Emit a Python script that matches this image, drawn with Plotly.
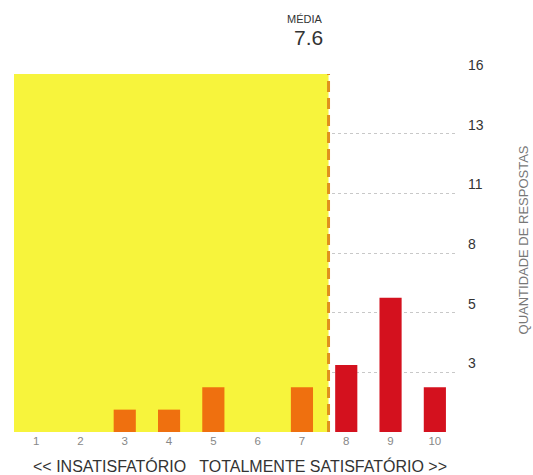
import plotly.graph_objects as go

notas = [1, 2, 3, 4, 5, 6, 7, 8, 9, 10]
respostas = [0, 0, 1, 1, 2, 0, 2, 3, 6, 2]
cores = ['#EF700F'] * 7 + ['#D4111E'] * 3
media = 7.6
y_max = 16
y_ticks = [y_max * i / 6 for i in range(1, 7)]
y_tick_labels = ['3', '5', '8', '11', '13', '16']

fig = go.Figure()
fig.add_trace(go.Bar(x=notas, y=respostas, marker_color=cores, width=0.5,
                     marker_line_width=0, hoverinfo='x+y'))

# area amarela ate a media + linha tracejada
fig.add_shape(type='rect', x0=0.5, x1=media, y0=0, y1=y_max, layer='between',
              fillcolor='#F7F43C', line_width=0)
fig.add_shape(type='line', x0=media, x1=media, y0=0, y1=y_max,
              line=dict(color='#E0901E', width=3, dash='11px,6px'))

fig.add_annotation(x=media, y=1, xref='x', yref='paper', yshift=47, text='MÉDIA',
                   showarrow=False, xanchor='right', yanchor='bottom', xshift=-4,
                   font=dict(size=11, color='#333', family='Liberation Sans'))
fig.add_annotation(x=media, y=1, xref='x', yref='paper', yshift=23, text='7.6',
                   showarrow=False, xanchor='right', yanchor='bottom', xshift=-4,
                   font=dict(size=21, color='#333', family='Liberation Sans'))
fig.add_annotation(x=0.5, y=0, xref='paper', yref='paper', yshift=-23,
                   text='<< INSATISFATÓRIO   TOTALMENTE SATISFATÓRIO >>',
                   showarrow=False, xanchor='center', yanchor='top', xshift=4,
                   font=dict(size=16, color='#333', family='Liberation Sans'))
fig.add_annotation(x=1, y=0.535, xref='paper', yref='paper', xshift=66,
                   text='QUANTIDADE DE RESPOSTAS', textangle=-90,
                   showarrow=False, xanchor='center', yanchor='middle',
                   font=dict(size=13, color='#777', family='Liberation Sans'))

fig.update_layout(
    width=533, height=475,
    margin=dict(l=14, r=76, t=74, b=43, autoexpand=False),
    paper_bgcolor='white', plot_bgcolor='white',
    showlegend=False, bargap=0.5,
    font=dict(family='Liberation Sans'),
    xaxis=dict(range=[0.5, 10.5], tickvals=notas, showgrid=False, zeroline=False,
               showline=False, ticks='', tickfont=dict(size=11.5, color='#888')),
    yaxis=dict(range=[0, y_max], side='right', tickvals=y_ticks, ticktext=y_tick_labels,
               showgrid=True, gridcolor='#c8c8c8', griddash='dot', gridwidth=1,
               zeroline=False, showline=False, ticks='', ticklabelshift=-9,
               ticklabelstandoff=10, tickfont=dict(size=14, color='#333'),
               automargin=False),
)

fig.write_html('out.html', config={'displayModeBar': False},
               post_script="document.body.style.margin='0';")
